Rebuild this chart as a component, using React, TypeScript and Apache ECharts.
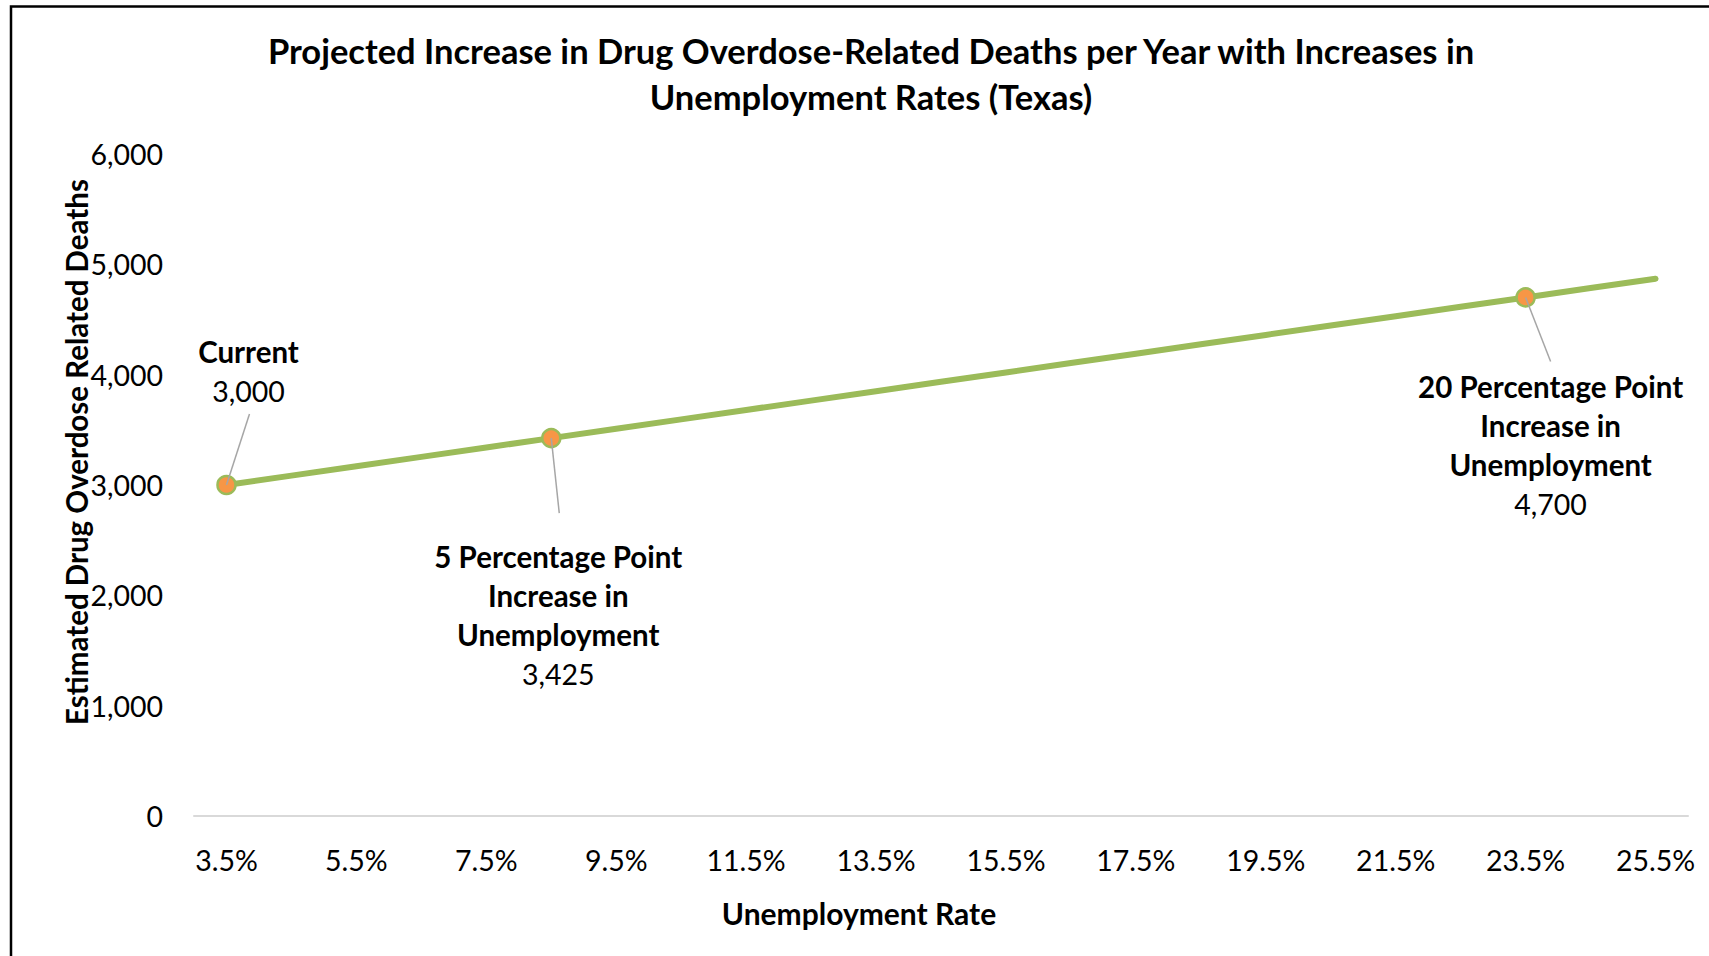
import React, { useEffect, useRef } from 'react';
import * as echarts from 'echarts';

const chartTitle =
  'Projected Increase in Drug Overdose-Related Deaths per Year with Increases in\nUnemployment Rates (Texas)';
const xAxisTitle = 'Unemployment Rate';
const yAxisTitle = 'Estimated Drug Overdose Related Deaths';

const categories = [
  '3.5%', '4.5%', '5.5%', '6.5%', '7.5%', '8.5%', '9.5%', '10.5%', '11.5%', '12.5%', '13.5%', '14.5%',
  '15.5%', '16.5%', '17.5%', '18.5%', '19.5%', '20.5%', '21.5%', '22.5%', '23.5%', '24.5%', '25.5%',
];
const deaths = [
  3000, 3085, 3170, 3255, 3340, 3425, 3510, 3595, 3680, 3765, 3850, 3935,
  4020, 4105, 4190, 4275, 4360, 4445, 4530, 4615, 4700, 4785, 4870,
];
const yMin = 0;
const yMax = 6000;
const yStep = 1000;

const annotatedIndex = [0, 5, 20];
const annotatedNames = [
  'Current',
  '5 Percentage Point\nIncrease in\nUnemployment',
  '20 Percentage Point\nIncrease in\nUnemployment',
];

// layout offsets of the callouts relative to their point (pixels)
const calloutLayout = [
  { labelDx: 22, labelDy: -153, lineDx: 23, lineDy: -71 },
  { labelDx: 7, labelDy: 99, lineDx: 8, lineDy: 75 },
  { labelDx: 25, labelDy: 70, lineDx: 25, lineDy: 64 },
];

const FONT = 'Lato, "Open Sans", sans-serif';
const fmt = (v: number) => v.toLocaleString('en-US');

export default function App() {
  const ref = useRef<HTMLDivElement>(null);

  useEffect(() => {
    document.body.style.margin = '0';
    const chart = echarts.init(ref.current!, null, { renderer: 'svg' });

    chart.setOption({
      animation: false,
      backgroundColor: '#ffffff',
      title: {
        text: chartTitle,
        left: 866,
        top: 22,
        textAlign: 'center',
        textStyle: {
          fontFamily: FONT,
          fontSize: 34.5,
          fontWeight: 'bold',
          color: '#000000',
          lineHeight: 46,
        },
      },
      grid: { left: 194, right: 21, top: 154, bottom: 140, containLabel: false },
      xAxis: {
        type: 'category',
        data: categories,
        boundaryGap: true,
        axisLine: { show: true, lineStyle: { color: '#D9D9D9', width: 2 } },
        axisTick: { show: false },
        axisLabel: {
          interval: 1,
          margin: 29,
          fontFamily: FONT,
          fontSize: 28.5,
          color: '#000000',
        },
        splitLine: { show: false },
      },
      yAxis: {
        type: 'value',
        min: yMin,
        max: yMax,
        interval: yStep,
        axisLine: { show: false },
        axisTick: { show: false },
        splitLine: { show: false },
        axisLabel: {
          margin: 31,
          fontFamily: FONT,
          fontSize: 28.5,
          color: '#000000',
          formatter: (v: number) => fmt(v),
        },
      },
      series: [
        {
          type: 'line',
          data: deaths.map((v, i) =>
            annotatedIndex.includes(i)
              ? { value: v, symbol: 'circle', symbolSize: 18 }
              : { value: v, symbol: 'none' }
          ),
          showAllSymbol: true,
          lineStyle: { color: '#9BBB59', width: 6, cap: 'round' },
          itemStyle: { color: '#F79646', borderColor: '#9BBB59', borderWidth: 2.5 },
          z: 3,
        },
      ],
      graphic: [
        {
          id: 'border',
          type: 'rect',
          shape: { x: 11, y: 6.5, width: 1800, height: 1100 },
          style: { fill: 'none', stroke: '#000000', lineWidth: 2.5 },
          silent: true,
        },
        {
          id: 'ytitle',
          type: 'text',
          x: 76,
          y: 452,
          rotation: Math.PI / 2,
          style: {
            text: yAxisTitle,
            fontFamily: FONT,
            fontSize: 29.5,
            fontWeight: 'bold',
            fill: '#000000',
            textAlign: 'center',
            textVerticalAlign: 'middle',
          },
        },
        {
          id: 'xtitle',
          type: 'text',
          x: 859,
          y: 913,
          style: {
            text: xAxisTitle,
            fontFamily: FONT,
            fontSize: 30,
            fontWeight: 'bold',
            fill: '#000000',
            textAlign: 'center',
            textVerticalAlign: 'middle',
          },
        },
      ],
    });

    const callouts: any[] = [];
    annotatedIndex.forEach((idx, k) => {
      const p = chart.convertToPixel({ xAxisIndex: 0, yAxisIndex: 0 }, [idx, deaths[idx]]) as number[];
      const lay = calloutLayout[k];
      const lines = annotatedNames[k].split('\n').map((s) => `{b|${s}}`);
      lines.push(`{v|${fmt(deaths[idx])}}`);
      callouts.push({
        id: 'leader' + k,
        type: 'line',
        shape: { x1: p[0], y1: p[1], x2: p[0] + lay.lineDx, y2: p[1] + lay.lineDy },
        style: { stroke: '#A6A6A6', lineWidth: 1.5 },
        z: 10,
        silent: true,
      });
      callouts.push({
        id: 'label' + k,
        type: 'text',
        x: p[0] + lay.labelDx,
        y: p[1] + lay.labelDy,
        z: 10,
        style: {
          text: lines.join('\n'),
          textAlign: 'center',
          textVerticalAlign: 'top',
          rich: {
            b: { fontFamily: FONT, fontSize: 29.5, fontWeight: 'bold', fill: '#000000', lineHeight: 39, align: 'center' },
            v: { fontFamily: FONT, fontSize: 28.5, fill: '#000000', lineHeight: 39, align: 'center' },
          },
        },
      });
    });
    chart.setOption({ graphic: callouts });

    return () => chart.dispose();
  }, []);

  return <div ref={ref} style={{ position: 'absolute', left: 0, top: 0, width: 1709, height: 956 }} />;
}
